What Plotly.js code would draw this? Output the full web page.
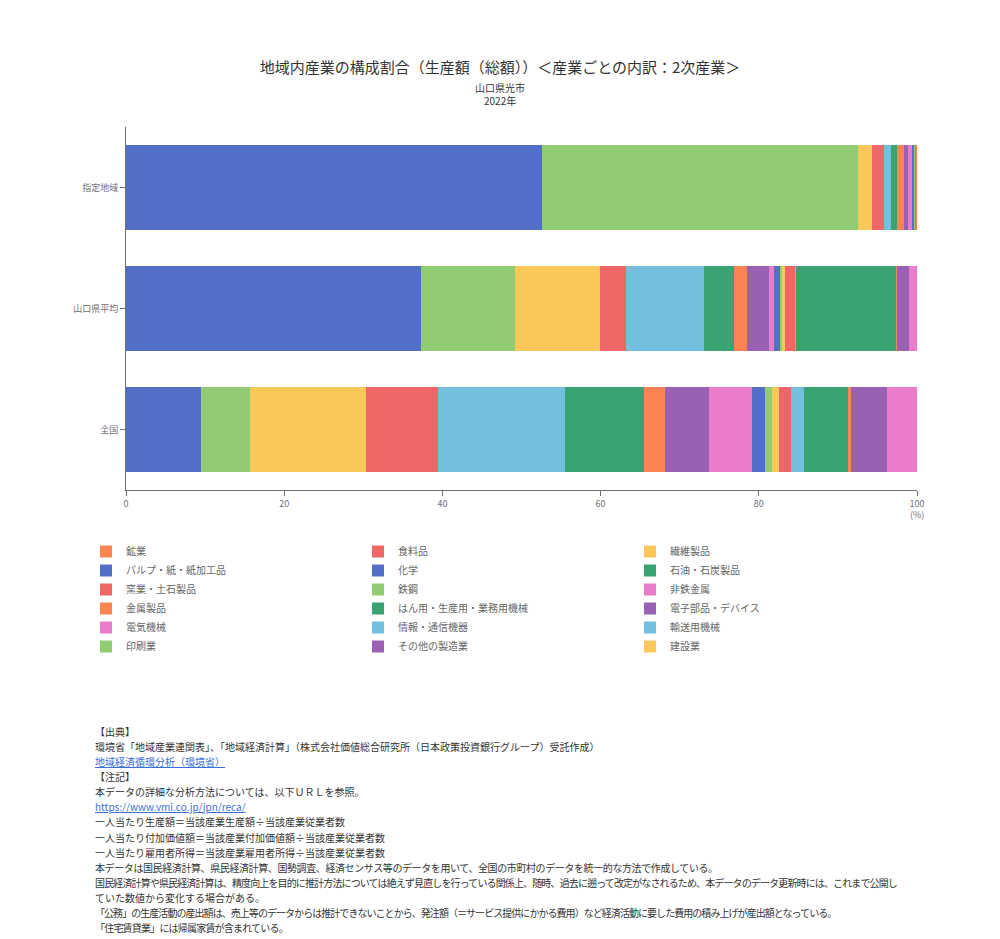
<!DOCTYPE html>
<html>
<head>
<meta charset="utf-8">
<script src="https://cdn.plot.ly/plotly-3.0.1.min.js"></script>
<style>
html,body{margin:0;padding:0;background:#fff;}
#chart{width:1000px;height:939px;}
</style>
</head>
<body>
<div id="chart"></div>
<script>
// Categories (top to bottom)
const categories = ['指定地域', '山口県平均', '全国'];

// Industries in stacking order (sorted by 指定地域 share)
const industries = [
  '化学', '鉄鋼', '建設業', '食料品', '輸送用機械', 'はん用・生産用・業務用機械',
  '金属製品', 'その他の製造業', '電気機械', 'パルプ・紙・紙加工品', '印刷業', '繊維製品',
  '窯業・土石製品', '情報・通信機器', '石油・石炭製品', '鉱業', '電子部品・デバイス', '非鉄金属'
];

// Legend order (natural industry order)
const legendOrder = [
  '鉱業', '食料品', '繊維製品', 'パルプ・紙・紙加工品', '化学', '石油・石炭製品',
  '窯業・土石製品', '鉄鋼', '非鉄金属', '金属製品', 'はん用・生産用・業務用機械', '電子部品・デバイス',
  '電気機械', '情報・通信機器', '輸送用機械', '印刷業', 'その他の製造業', '建設業'
];

// Shares (%) per industry, same order as industries
const shiteiValues    = [52.6, 39.9, 1.85, 1.48, 0.88, 0.82, 0.80, 0.58, 0.43, 0.29, 0.12, 0.08, 0.07, 0.05, 0.03, 0.02, 0.01, 0.0];
const yamaguchiValues = [37.3, 11.9, 10.75, 3.2, 9.95, 3.8, 1.6, 2.8, 0.63, 0.76, 0.29, 0.34, 1.35, 0.05, 12.75, 0.05, 1.52, 0.97];
const zenkokuValues   = [9.5, 6.2, 14.6, 9.1, 16.1, 10.0, 2.6, 5.6, 5.4, 1.7, 0.9, 0.8, 1.6, 1.6, 5.7, 0.2, 4.6, 3.8];

const palette = ['#5470c6', '#91cc75', '#fac858', '#ee6666', '#73c0de', '#3ba272', '#fc8452', '#9a60b4', '#ea7ccc'];

const FONT = '"Noto Sans CJK JP", "Noto Sans", sans-serif';

const traces = industries.map((name, i) => ({
  type: 'bar',
  orientation: 'h',
  name: name,
  y: categories,
  x: [shiteiValues[i], yamaguchiValues[i], zenkokuValues[i]],
  marker: { color: palette[i % palette.length], line: { width: 0 } },
  legendrank: legendOrder.indexOf(name) + 1,
  hovertemplate: '%{y}<br>' + name + ': %{x}%<extra></extra>'
}));

// Footer lines
const LINK = 'color:#3a6fd8;text-decoration:underline;';
const footerLines = [
  '【出典】',
  '環境省「地域産業連関表」、「地域経済計算」（株式会社価値総合研究所（日本政策投資銀行グループ）受託作成）',
  '<a href="https://www.env.go.jp/"><span style="' + LINK + '">地域経済循環分析（環境省）</span></a>',
  '【注記】',
  '本データの詳細な分析方法については、以下ＵＲＬを参照。',
  '<a href="https://www.vmi.co.jp/jpn/reca/"><span style="' + LINK + '">https://www.vmi.co.jp/jpn/reca/</span></a>',
  '一人当たり生産額＝当該産業生産額÷当該産業従業者数',
  '一人当たり付加価値額＝当該産業付加価値額÷当該産業従業者数',
  '一人当たり雇用者所得＝当該産業雇用者所得÷当該産業従業者数',
  '<span style="letter-spacing:-0.4px;">本データは国民経済計算、県民経済計算、国勢調査、経済センサス等のデータを用いて、全国の市町村のデータを統一的な方法で作成している。</span>',
  '<span style="letter-spacing:-0.87px;">国民経済計算や県民経済計算は、精度向上を目的に推計方法については絶えず見直しを行っている関係上、随時、過去に遡って改定がなされるため、本データのデータ更新時には、これまで公開し</span>',
  'ていた数値から変化する場合がある。',
  '<span style="letter-spacing:-0.95px;">「公務」の生産活動の産出額は、売上等のデータからは推計できないことから、発注額（＝サービス提供にかかる費用）など経済活動に要した費用の積み上げが産出額となっている。</span>',
  '<span style="letter-spacing:-0.8px;">「住宅賃貸業」には帰属家賃が含まれている。</span>'
];

const W = 1000, H = 939;
const M = { l: 126, r: 83, t: 127, b: 449 };
const pw = W - M.l - M.r, ph = H - M.t - M.b;
const px2x = p => (p - M.l) / pw;
const py2y = p => (H - M.b - p) / ph;

const annotations = [
  { text: '山口県光市', xref: 'paper', yref: 'paper', x: px2x(500), y: py2y(87), xanchor: 'center', yanchor: 'middle', showarrow: false, font: { family: FONT, size: 10, color: '#333' } },
  { text: '2022年', xref: 'paper', yref: 'paper', x: px2x(500), y: py2y(101), xanchor: 'center', yanchor: 'middle', showarrow: false, font: { family: FONT, size: 10, color: '#333' } },
  { text: '(%)', xref: 'paper', yref: 'paper', x: 1, y: py2y(514), xanchor: 'center', yanchor: 'middle', showarrow: false, font: { family: FONT, size: 9, color: '#6e7079' } }
];
footerLines.forEach((t, i) => {
  annotations.push({
    text: t, xref: 'paper', yref: 'paper', x: px2x(93), y: py2y(731 + i * 15.15),
    xanchor: 'left', yanchor: 'middle', showarrow: false, align: 'left',
    font: { family: FONT, size: 10, color: '#333' }
  });
});

const layout = {
  width: W, height: H,
  margin: M,
  paper_bgcolor: '#fff', plot_bgcolor: '#fff',
  font: { family: FONT, size: 10, color: '#6e7079' },
  title: {
    text: '地域内産業の構成割合（生産額（総額））＜産業ごとの内訳：2次産業＞',
    xref: 'container', yref: 'container', x: 0.5, y: 1 - 68 / H, xanchor: 'center', yanchor: 'middle',
    font: { family: FONT, size: 15, color: '#333' }
  },
  barmode: 'stack',
  bargap: 0.3,
  showlegend: true,
  legend: {
    orientation: 'h', x: px2x(86), y: py2y(537), xanchor: 'left', yanchor: 'top',
    entrywidth: 227, entrywidthmode: 'pixels', traceorder: 'normal',
    font: { family: FONT, size: 10, color: '#666' }, bgcolor: 'rgba(0,0,0,0)'
  },
  xaxis: {
    range: [0, 100], dtick: 20, tick0: 0, showgrid: false, zeroline: false,
    showline: true, linecolor: '#6e7079', linewidth: 1,
    ticks: 'outside', ticklen: 5, tickcolor: '#6e7079',
    tickfont: { family: FONT, size: 9, color: '#6e7079' }, fixedrange: true
  },
  yaxis: {
    autorange: 'reversed', type: 'category', showgrid: false, zeroline: false,
    showline: true, linecolor: '#6e7079', linewidth: 1,
    ticks: 'outside', ticklen: 5, tickcolor: '#6e7079',
    tickfont: { family: FONT, size: 9, color: '#6e7079' }, fixedrange: true
  },
  annotations: annotations
};

Plotly.newPlot('chart', traces, layout, { displayModeBar: false, responsive: false });
</script>
</body>
</html>
